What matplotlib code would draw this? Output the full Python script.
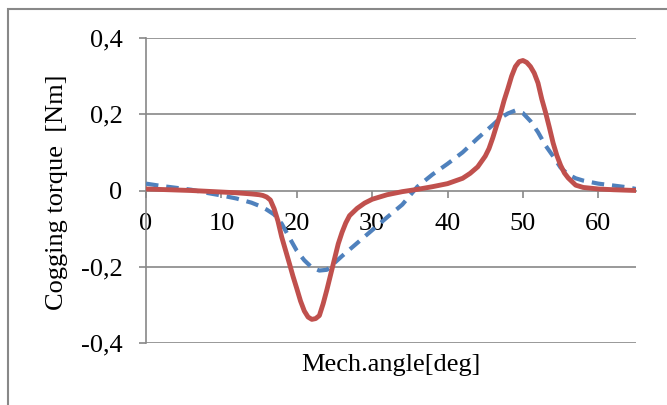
import matplotlib
matplotlib.use("Agg")
import matplotlib.pyplot as plt
from matplotlib.patches import Rectangle
from matplotlib.ticker import FuncFormatter

# ---- data ----
red_x = [0, 3, 6, 9, 12, 14, 15, 15.5, 16, 16.5, 17, 17.5, 18, 18.5, 19, 19.5,
         20, 20.5, 21, 21.5, 22, 22.5, 23, 23.5, 24, 24.5, 25, 25.5, 26, 26.5,
         27, 28, 29, 30, 32, 34, 36, 38, 40, 42, 43, 44, 45, 45.5, 46, 46.5,
         47, 47.5, 48, 48.5, 49, 49.5, 50, 50.5, 51, 51.5, 52, 52.5, 53, 53.5,
         54, 54.5, 55, 55.5, 56, 57, 58, 60, 62, 65]
red_y = [0.004, 0.002, 0.0, -0.003, -0.006, -0.009, -0.011, -0.013, -0.017,
         -0.025, -0.048, -0.080, -0.122, -0.156, -0.190, -0.225, -0.257, -0.290,
         -0.316, -0.332, -0.338, -0.336, -0.328, -0.297, -0.260, -0.220, -0.180,
         -0.140, -0.110, -0.085, -0.066, -0.047, -0.033, -0.023, -0.011, -0.003,
         0.003, 0.010, 0.018, 0.032, 0.045, 0.062, 0.090, 0.110, 0.138, 0.170,
         0.200, 0.236, 0.267, 0.300, 0.325, 0.338, 0.341, 0.336, 0.325, 0.308,
         0.282, 0.240, 0.205, 0.166, 0.125, 0.092, 0.066, 0.046, 0.033, 0.014,
         0.008, 0.004, 0.002, 0.0]

blue_x = [0, 2, 4, 6, 8, 10, 12, 14, 15, 16, 17, 18, 19, 20, 21, 22, 23, 24,
          25, 26, 27, 28, 30, 32, 34, 36, 38, 40, 42, 44, 46, 47, 48, 49, 50,
          51, 52, 53, 54, 55, 56, 57, 58, 60, 62, 64, 65]
blue_y = [0.018, 0.012, 0.007, 0.002, -0.006, -0.013, -0.021, -0.032, -0.040,
          -0.050, -0.063, -0.087, -0.123, -0.158, -0.183, -0.202, -0.210, -0.208,
          -0.190, -0.172, -0.155, -0.138, -0.104, -0.070, -0.037, 0.010, 0.042,
          0.070, 0.100, 0.137, 0.172, 0.190, 0.202, 0.210, 0.203, 0.182, 0.153,
          0.118, 0.090, 0.060, 0.042, 0.032, 0.026, 0.018, 0.013, 0.008, 0.004]

x_ticks = [0, 10, 20, 30, 40, 50, 60]
y_ticks = [-0.4, -0.2, 0, 0.2, 0.4]
x_label = "Mech.angle[deg]"
y_label = "Cogging torque  [Nm]"

FONT = "Liberation Serif"
FS = 19
GRAY = "#888888"

fig = plt.figure(figsize=(6.67, 4.05), dpi=100)
fig.patch.set_facecolor("white")
fig.patches.append(Rectangle((8 / 667, -0.1), 1.2, 1 - 9 / 405 + 0.1,
                             transform=fig.transFigure, fill=False,
                             edgecolor=GRAY, linewidth=1.5))

ax = fig.add_axes([146 / 667, 1 - 343 / 405, (636 - 146) / 667, (343 - 38) / 405])
ax.set_xlim(0, 65)
ax.set_ylim(-0.4, 0.4)

ax.plot(blue_x, blue_y, color="#4F81BD", linewidth=3.0,
        linestyle=(0, (3.0, 1.9)), zorder=3)
ax.plot(red_x, red_y, color="#C0504D", linewidth=3.5, zorder=4,
        solid_capstyle="round", solid_joinstyle="round")

for y in [-0.4, -0.2, 0.2, 0.4]:
    ax.axhline(y, color=GRAY, linewidth=1.2, zorder=1)

for s in ["top", "right"]:
    ax.spines[s].set_visible(False)
ax.spines["bottom"].set_position(("data", 0))
ax.spines["bottom"].set_color(GRAY)
ax.spines["bottom"].set_linewidth(1.2)
ax.spines["left"].set_color(GRAY)
ax.spines["left"].set_linewidth(1.2)

ax.set_xticks(x_ticks)
ax.set_yticks(y_ticks)
ax.xaxis.set_major_formatter(FuncFormatter(lambda v, p: f"{v:g}"))
ax.yaxis.set_major_formatter(
    FuncFormatter(lambda v, p: ("0" if abs(v) < 1e-9 else f"{v:.1f}").replace(".", ",")))
ax.tick_params(axis="x", direction="out", length=5, width=1.2, color=GRAY,
               pad=11, labelsize=FS)
ax.tick_params(axis="y", direction="out", length=5, width=1.2, color=GRAY,
               pad=12, labelsize=FS)
for lab in ax.get_xticklabels() + ax.get_yticklabels():
    lab.set_fontfamily(FONT)

fig.text(391 / 667, 1 - 365 / 405, x_label, ha="center", va="center",
         fontsize=FS, fontfamily=FONT)
fig.text(57 / 667, 1 - 192 / 405, y_label, ha="center", va="center",
         rotation=90, fontsize=FS, fontfamily=FONT)

fig.savefig("out.png", dpi=100, facecolor="white")
